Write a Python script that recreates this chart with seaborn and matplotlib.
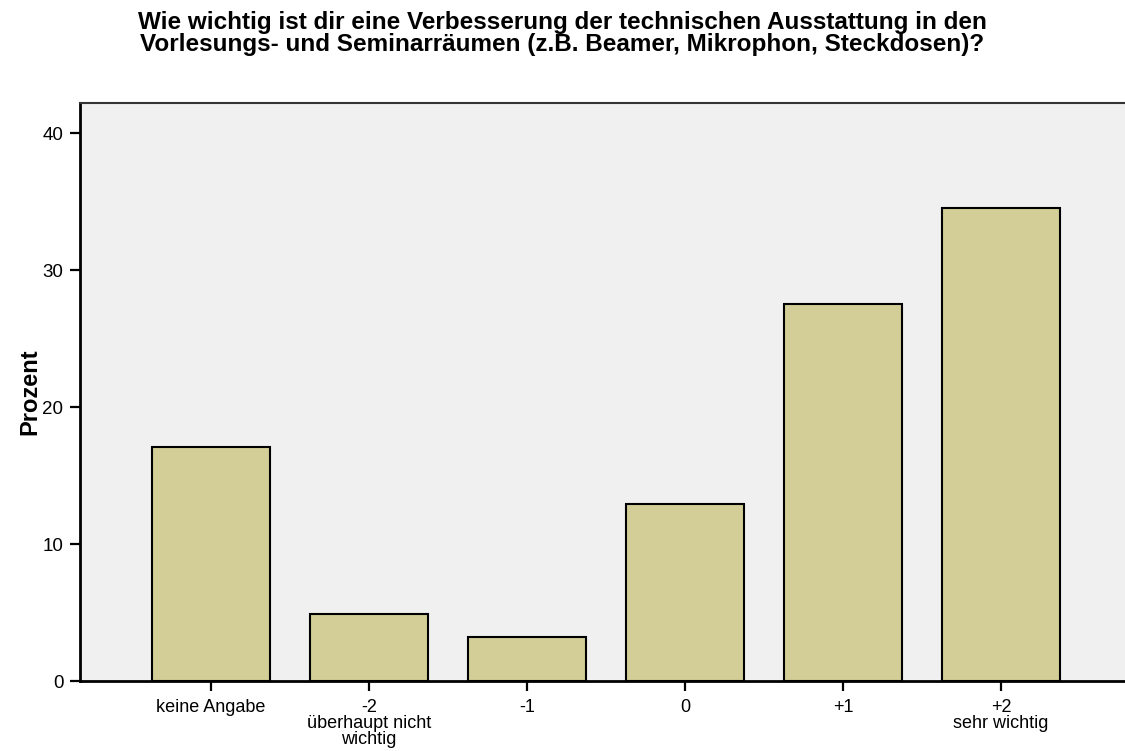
import seaborn as sns
import matplotlib.pyplot as plt
import pandas as pd

sns.set_theme(style="white")
plt.rcParams["font.family"] = ["Liberation Sans", "DejaVu Sans"]
plt.rcParams["text.color"] = "black"

# Data
categories = ["keine Angabe", "-2\nüberhaupt nicht\nwichtig", "-1", "0", "+1", "+2\nsehr wichtig"]
percent = [17.1, 4.9, 3.2, 12.9, 27.5, 34.5]
yticks = [0, 10, 20, 30, 40]

df = pd.DataFrame({"Antwort": categories, "Prozent": percent})

fig = plt.figure(figsize=(11.25, 7.51), dpi=100)
ax = fig.add_axes([0.0711, 0.0932, 0.9289, 0.7696])
ax.set_facecolor("#F0F0F0")

sns.barplot(data=df, x="Antwort", y="Prozent", color="#D3CE98", saturation=1,
            edgecolor="black", linewidth=1.5, width=0.75, ax=ax)

ax.set_xlim(-0.83, 5.785)
ax.set_ylim(0, 42.2)
ax.set_yticks(yticks)
ax.set_xlabel("")
ax.set_ylabel("Prozent", fontsize=17, fontweight="bold", color="black", labelpad=1)

ax.tick_params(axis="both", which="major", bottom=True, left=True, direction="out",
               length=7, width=1.6, colors="black", labelsize=13.5, pad=5)
ax.tick_params(axis="x", labelsize=13, pad=6)
for lbl in ax.get_xticklabels():
    lbl.set_linespacing(0.93)
    lbl.set_verticalalignment("top")

for side in ["left", "bottom"]:
    ax.spines[side].set_color("black")
    ax.spines[side].set_linewidth(2)
ax.spines["top"].set_color("#333333")
ax.spines["top"].set_linewidth(1.5)
ax.spines["right"].set_visible(False)

fig.text(0.5, 0.985, "Wie wichtig ist dir eine Verbesserung der technischen Ausstattung in den\n"
         "Vorlesungs- und Seminarräumen (z.B. Beamer, Mikrophon, Steckdosen)?",
         ha="center", va="top", fontsize=17.5, fontweight="bold", linespacing=0.92,
         color="black")

fig.savefig("out.png", dpi=100, facecolor="white")
